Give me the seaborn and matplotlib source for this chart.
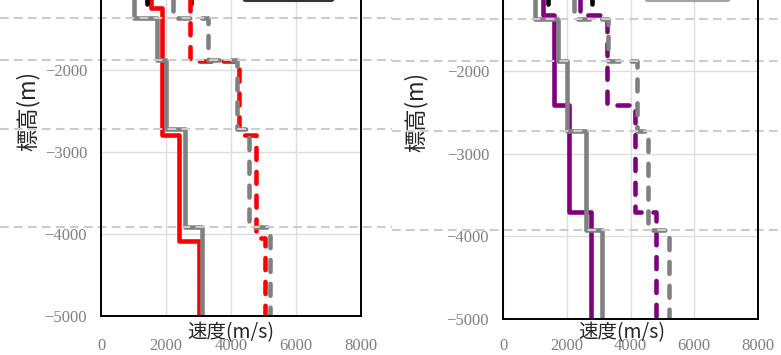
import numpy as np
import matplotlib
matplotlib.use("Agg")
import matplotlib.pyplot as plt
import seaborn as sns

# reference model (gray): layer boundaries and velocities
ref_depth = [0, -1370, -1880, -2725, -3920, -5000]
ref_vs = [1010, 1710, 2010, 2590, 3115]
ref_vp = [2215, 3280, 4195, 4560, 5210]

# near-surface layer (black)
top_depth = [0, -1190]
top_vs = [1410]
top_vp = [2780]

# left panel model (red)
red_s_depth = [0, -1238, -2787, -4085, -5000]
red_vs = [1540, 1890, 2400, 3010]
red_p_depth = [0, -1885, -2787, -4045, -5000]
red_vp = [2740, 4240, 4770, 5050]

# right panel model (purple)
pur_depth = [0, -1328, -2413, -3702, -5000]
pur_vs = [1250, 1585, 2060, 2755]
pur_vp = [2420, 3250, 4145, 4795]

x_ticks = [0, 2000, 4000, 6000, 8000]
y_ticks = [-5000, -4000, -3000, -2000, -1000, 0]

sns.set_style("white")
plt.rcParams['font.family'] = ['Noto Sans CJK JP', 'DejaVu Sans']

GRAY = '#808080'
DASH = (0, (2.6, 2.6))


def steps(depth, vel):
    # turn layer tops/bottoms into a step profile
    y = np.repeat(depth, 2)[1:-1]
    x = np.repeat(vel, 2)
    return x, y


def draw_profile(ax, depth, vel, color, dashed, z, lw=3.3, cap='butt'):
    x, y = steps(depth, vel)
    kw = dict(linestyle=DASH, dash_capstyle='round') if dashed else dict(solid_capstyle=cap)
    sns.lineplot(x=x, y=y, sort=False, estimator=None, color=color, lw=lw,
                 zorder=z, ax=ax, **kw)


def add_legend(ax, x0, width, edge):
    # legend box sits above the visible area, only its lower edge shows
    handles = ax.get_lines()
    leg = ax.legend(handles=handles, labels=[''] * len(handles), loc='lower left',
                    bbox_to_anchor=(x0 / 781, 1 - 0.8 / 355, width / 781, 0.2),
                    bbox_transform=fig.transFigure, mode='expand', borderaxespad=0,
                    frameon=True, fancybox=True)
    leg.get_frame().set_edgecolor(edge)
    leg.get_frame().set_linewidth(1.5)


def setup_axes(ax, hline_span, ylab_x, xlab_x, xlab_y, xpad):
    ax.set_xlim(0, 8000)
    ax.set_ylim(-5000, 0)
    ax.set_xticks(x_ticks)
    ax.set_yticks(y_ticks)
    ax.grid(True, color='#dcdcdc', lw=1.0, zorder=0)
    ax.set_axisbelow(True)
    for s in ax.spines.values():
        s.set_color('black')
        s.set_linewidth(1.4)
    ax.tick_params(axis='both', length=0, labelsize=12, labelcolor=GRAY,
                   labelfontfamily='Liberation Serif')
    ax.tick_params(axis='x', pad=xpad)
    ax.tick_params(axis='y', pad=10)
    ax.set_xlabel('速度(m/s)', fontsize=14, va='center')
    ax.xaxis.set_label_coords(xlab_x, xlab_y)
    ax.set_ylabel('標高(m)', fontsize=16, va='center')
    ax.yaxis.set_label_coords(ylab_x, 0.5)
    # layer boundaries of the reference model
    for d in ref_depth[1:-1]:
        ax.axhline(d, xmin=hline_span[0], xmax=hline_span[1], color='#cccccc',
                   lw=1.5, linestyle=(0, (4.2, 2.5)), clip_on=False, zorder=2.3)


fig = plt.figure(figsize=(7.81, 3.55), dpi=100)
ax1 = fig.add_axes([101 / 781, 39 / 355, 260 / 781, 410 / 355])
ax2 = fig.add_axes([503 / 781, 36 / 355, 255 / 781, 413.5 / 355])

# left panel
draw_profile(ax1, top_depth, top_vs, 'black', False, 2.05, cap='round')
draw_profile(ax1, top_depth, top_vp, 'black', True, 2.0)
draw_profile(ax1, red_s_depth, red_vs, 'red', False, 2.02)
draw_profile(ax1, red_p_depth, red_vp, 'red', True, 2.02)
draw_profile(ax1, ref_depth, ref_vs, GRAY, False, 2.1)
draw_profile(ax1, ref_depth, ref_vp, GRAY, True, 2.1)
add_legend(ax1, 243, 91, 'black')
setup_axes(ax1, (-0.39, 1.12), -0.281, 0.5, -0.0415, 16)

# right panel
draw_profile(ax2, top_depth, top_vs, 'black', False, 2.05, cap='round')
draw_profile(ax2, top_depth, top_vp, 'black', True, 2.05)
draw_profile(ax2, pur_depth, pur_vs, 'purple', False, 2.02)
draw_profile(ax2, pur_depth, pur_vp, 'purple', True, 2.02)
draw_profile(ax2, ref_depth, ref_vs, GRAY, False, 2.1)
draw_profile(ax2, ref_depth, ref_vp, GRAY, True, 2.1)
add_legend(ax2, 645, 85, '#8c8c8c')
setup_axes(ax2, (-0.435, 1.09), -0.341, 0.465, -0.034, 13.5)

fig.savefig('out.png', dpi=100)
